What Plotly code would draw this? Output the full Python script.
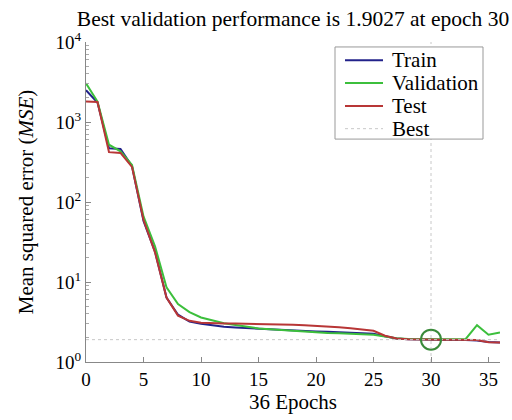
import plotly.graph_objects as go

epochs = list(range(0, 37))
train = [2500, 1750, 470, 460, 280, 58, 24, 6.4, 3.9, 3.2, 3.0, 2.85, 2.75, 2.7, 2.65, 2.6, 2.55, 2.5, 2.47, 2.44, 2.41,
         2.38, 2.35, 2.32, 2.29, 2.25, 2.1, 1.97, 1.93, 1.91, 1.90, 1.89, 1.89, 1.88, 1.86, 1.78, 1.75]
validation = [3050, 1800, 520, 430, 290, 66, 28, 8.6, 5.3, 4.2, 3.6, 3.3, 3.05, 2.9, 2.75, 2.63, 2.56, 2.5, 2.44, 2.38, 2.33,
              2.3, 2.28, 2.25, 2.22, 2.19, 2.08, 1.98, 1.94, 1.92, 1.9027, 1.92, 1.92, 1.93, 2.89, 2.19, 2.34]
test = [1800, 1780, 420, 410, 275, 60, 23.5, 6.4, 3.8, 3.27, 3.1, 3.05, 3.03, 3.02, 3.01, 3.0, 2.98, 2.95, 2.92, 2.88, 2.84,
        2.78, 2.72, 2.65, 2.56, 2.46, 2.13, 1.97, 1.93, 1.91, 1.90, 1.90, 1.90, 1.90, 1.88, 1.77, 1.75]
best_epoch = 30
best_value = 1.9027
series_names = ["Train", "Validation", "Test", "Best"]
y_tickvals = [1, 10, 100, 1000, 10000]
y_ticktext = ["10<sup>0</sup>", "10<sup>1</sup>", "10<sup>2</sup>", "10<sup>3</sup>", "10<sup>4</sup>"]
x_tickvals = [0, 5, 10, 15, 20, 25, 30, 35]
y_minor = [m * d for d in [1, 10, 100, 1000] for m in range(2, 10)]

serif = "Liberation Serif, Times New Roman, serif"
colors = ["#22228a", "#3cbf3c", "#b83636", "#c8c8c8"]

# plot area geometry (pixels)
L, R, T, B = 86, 12, 42, 55
W, H = 512, 420
PW, PH = W - L - R, H - T - B


def px(x):
    return (x - L) / PW


def py(y):
    return (H - B - y) / PH


fig = go.Figure()
fig.add_trace(go.Scatter(x=epochs, y=train, mode="lines", name=series_names[0], showlegend=False,
                         line=dict(color=colors[0], width=2)))
fig.add_trace(go.Scatter(x=epochs, y=validation, mode="lines", name=series_names[1], showlegend=False,
                         line=dict(color=colors[1], width=2)))
fig.add_trace(go.Scatter(x=epochs, y=test, mode="lines", name=series_names[2], showlegend=False,
                         line=dict(color=colors[2], width=2)))
fig.add_trace(go.Scatter(x=[0, 36], y=[best_value, best_value], mode="lines", name=series_names[3],
                         showlegend=False, line=dict(color=colors[3], width=1, dash="dot")))
fig.add_trace(go.Scatter(x=[best_epoch, best_epoch], y=[1, 10000], mode="lines", showlegend=False,
                         line=dict(color=colors[3], width=1, dash="dot")))
fig.add_trace(go.Scatter(x=[best_epoch], y=[best_value], mode="markers", showlegend=False,
                         marker=dict(symbol="circle-open", size=20, color="#3a8a3a",
                                     line=dict(width=2, color="#3a8a3a"))))

# manual legend (layout element)
shapes = [dict(type="rect", xref="paper", yref="paper", x0=px(335), x1=px(483), y0=py(140), y1=py(47),
               line=dict(color="#999999", width=1), fillcolor="white", layer="above")]
annotations = []
item_y = [60.5, 83.5, 106.5, 129.5]
for name, col, yy in zip(series_names, colors, item_y):
    shapes.append(dict(type="line", xref="paper", yref="paper", x0=px(345), x1=px(383), y0=py(yy), y1=py(yy),
                       line=dict(color=col, width=2 if name != "Best" else 1,
                                 dash="solid" if name != "Best" else "dot"), layer="above"))
    annotations.append(dict(text=name, xref="paper", yref="paper", x=px(390), y=py(yy),
                            xanchor="left", yanchor="middle", showarrow=False,
                            font=dict(family=serif, size=21, color="black")))

fig.update_layout(
    width=W, height=H,
    margin=dict(l=L, r=R, t=T, b=B),
    paper_bgcolor="white", plot_bgcolor="white",
    font=dict(family=serif, size=19, color="black"),
    title=dict(text="Best validation performance is 1.9027 at epoch 30",
               x=293 / W, xanchor="center", xref="container",
               y=1 - 18.5 / H, yanchor="middle", yref="container",
               font=dict(family=serif, size=21.5)),
    shapes=shapes, annotations=annotations,
)
fig.update_xaxes(range=[0, 36], tickvals=x_tickvals,
                 ticks="inside", ticklen=5, tickcolor="#888", showline=True,
                 linecolor="#888", linewidth=1, showgrid=False, zeroline=False,
                 title=dict(text="36 Epochs", standoff=4, font=dict(family=serif, size=21)),
                 tickfont=dict(family=serif, size=19))
fig.update_yaxes(type="log", range=[0, 4], tickvals=y_tickvals, ticktext=y_ticktext,
                 ticks="inside", ticklen=5, tickcolor="#888",
                 showline=True, linecolor="#888", linewidth=1, showgrid=False, zeroline=False,
                 minor=dict(tickvals=y_minor, ticks="inside", ticklen=3, tickcolor="#aaa", showgrid=False),
                 title=dict(text="Mean squared error (<i>MSE</i>)", standoff=16, font=dict(family=serif, size=21)),
                 tickfont=dict(family=serif, size=19))

fig.write_html("out.html")
